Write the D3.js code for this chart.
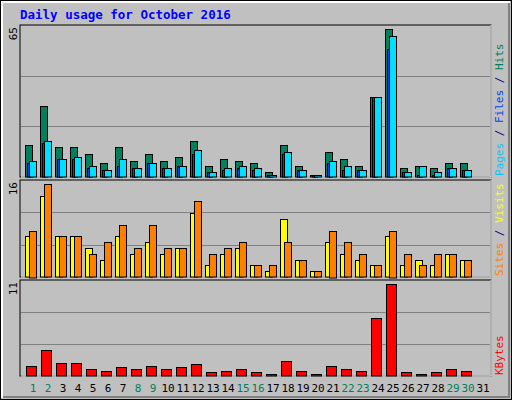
<!DOCTYPE html>
<html>
<head>
<meta charset="utf-8">
<script src="https://cdn.jsdelivr.net/npm/d3@7"></script>
<style>
body { margin: 0; background: #fff; }
text { font-family: "DejaVu Sans Mono", monospace; }
</style>
</head>
<body>
<svg width="512" height="400"></svg>
<script>
var days = d3.range(1, 32);
var weekends = [1, 2, 8, 9, 15, 16, 22, 23, 29, 30];

var hits = [14, 31, 13, 13, 10, 6, 13, 7, 10, 7, 9, 16, 5, 8, 7, 6, 2, 14, 5, 1, 11, 8, 5, 35, 65, 4, 5, 4, 6, 6, 0];
var files = [7, 16, 8, 9, 5, 3, 8, 4, 6, 4, 5, 12, 2, 4, 5, 4, 1, 11, 3, 1, 7, 5, 3, 35, 62, 2, 5, 2, 4, 3, 0];
var pages = [6, 15, 8, 8, 4, 3, 5, 4, 6, 4, 5, 10, 2, 3, 4, 3, 1, 10, 3, 1, 6, 3, 3, 35, 56, 2, 1, 1, 4, 3, 0];
var visits = [8, 16, 7, 7, 4, 6, 9, 5, 9, 5, 5, 13, 4, 5, 6, 2, 2, 6, 3, 1, 8, 6, 4, 2, 8, 4, 2, 4, 4, 3, 0];
var sites = [7, 14, 7, 7, 5, 3, 7, 4, 6, 4, 5, 11, 2, 4, 5, 2, 1, 10, 3, 1, 6, 4, 3, 2, 7, 2, 3, 2, 4, 3, 0];
var kbytes = [1.24, 3.05, 1.6, 1.6, 0.88, 0.64, 1.12, 0.88, 1.24, 0.88, 1.12, 1.49, 0.52, 0.64, 0.88, 0.52, 0.28, 1.85, 0.64, 0.28, 1.24, 0.88, 0.64, 6.9, 11, 0.52, 0.28, 0.52, 0.88, 0.64, 0];

var svg = d3.select('svg');

// background + bevel
svg.append('rect').attr('x', 0.5).attr('y', 0.5).attr('width', 511).attr('height', 399)
    .attr('fill', '#c0c0c0').attr('stroke', '#000');
svg.append('path').attr('d', 'M2,398 V2 H510').attr('fill', 'none').attr('stroke', '#fff').attr('stroke-width', 2);
svg.append('path').attr('d', 'M3,397 H509 V3').attr('fill', 'none').attr('stroke', '#808080').attr('stroke-width', 2);

svg.append('text').attr('x', 20).attr('y', 19)
    .attr('fill', '#0000ff').attr('font-size', 12.5).attr('font-weight', 'bold')
    .text('Daily usage for October 2016');

var left = 20, right = 491;
var x = d3.scaleLinear().domain([1, 32]).range([25, 25 + 31 * 15]);

var panels = [
    {top: 25, bottom: 177, max: 65, label: [['Pages', '#00c8ff'], [' / ', '#000080'], ['Files', '#0040ff'], [' / ', '#000080'], ['Hits', '#00805c']]},
    {top: 180, bottom: 277, max: 16, label: [['Sites', '#ff8000'], [' / ', '#000080'], ['Visits', '#ffff00']]},
    {top: 280, bottom: 376, max: 11, label: [['KBytes', '#ff0000']]}
];

panels.forEach(function(p) {
    p.y = d3.scaleLinear().domain([0, p.max]).range([p.bottom, p.top + 4]);
    svg.append('rect').attr('x', left).attr('y', p.top).attr('width', right - left).attr('height', p.bottom - p.top)
        .attr('fill', '#c0c0c0').attr('stroke', '#000');
    svg.append('path').attr('d', 'M' + (left + 1) + ',' + p.bottom + ' H' + right + ' V' + p.top)
        .attr('fill', 'none').attr('stroke', '#fff');
    [1, 2].forEach(function(k) {
        var gy = Math.round(p.top + (p.bottom - p.top) * k / 3) + 0.5;
        svg.append('line').attr('x1', left + 1).attr('x2', right - 1).attr('y1', gy).attr('y2', gy)
            .attr('stroke', '#808080');
    });
    svg.append('text').attr('transform', 'translate(17,' + (p.top + 2) + ') rotate(-90)')
        .attr('text-anchor', 'end').attr('font-size', 11).attr('fill', '#000').text(p.max);
    var t = svg.append('text').attr('transform', 'translate(503,' + (p.bottom - 1) + ') rotate(-90)')
        .attr('font-size', 11);
    p.label.forEach(function(s) { t.append('tspan').attr('fill', s[1]).text(s[0]); });
});

function bars(data, panel, off, w, color) {
    var y = panels[panel].y;
    svg.append('g').selectAll('rect').data(days.filter(function(d) { return data[d - 1] > 0; }))
        .enter().append('rect')
        .attr('x', function(d) { return x(d) + off + 0.5; })
        .attr('y', function(d) { return Math.round(y(data[d - 1])) + 0.5; })
        .attr('width', w)
        .attr('height', function(d) { return Math.round(panels[panel].bottom - y(data[d - 1])) - 0.5; })
        .attr('fill', color).attr('stroke', '#000');
}

bars(hits, 0, 0, 7, '#00805c');
bars(pages, 0, 2, 3, '#0040ff');
bars(files, 0, 4, 7, '#00e0ff');
bars(sites, 1, 0, 7, '#ffff00');
bars(visits, 1, 4, 7, '#ff8000');
bars(kbytes, 2, 1, 10, '#ff0000');

svg.append('g').selectAll('text').data(days).enter().append('text')
    .attr('x', function(d) { return x(d) + 8; })
    .attr('y', 392)
    .attr('text-anchor', 'middle').attr('font-size', 11)
    .attr('fill', function(d) { return weekends.indexOf(d) >= 0 ? '#00805c' : '#000'; })
    .text(function(d) { return d; });
</script>
</body>
</html>
